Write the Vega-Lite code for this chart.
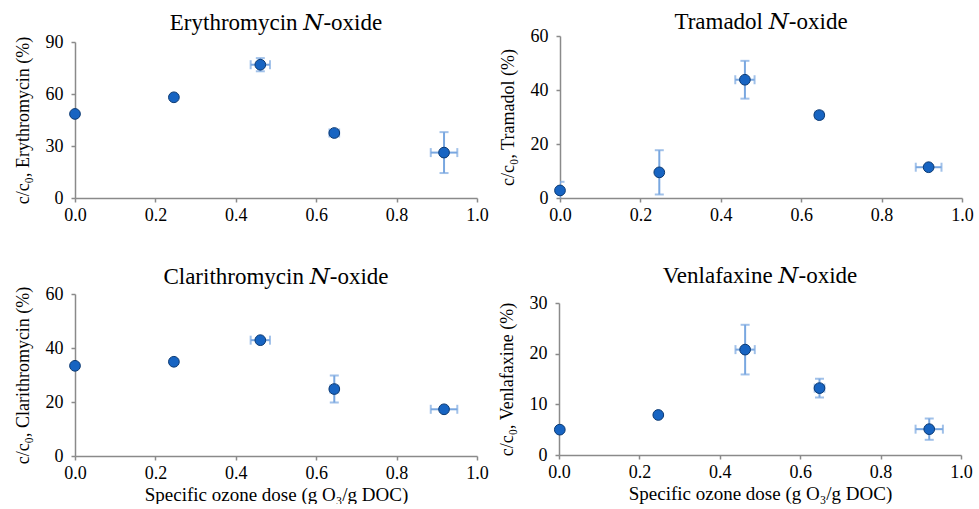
{
  "$schema": "https://vega.github.io/schema/vega-lite/v6.json",
  "background": "white",
  "padding": {"left": 13, "top": 11, "right": 5, "bottom": 0},
  "datasets": {
    "noxides": [
      {"compound": "Erythromycin", "dose": 0.0, "dose_err": 0, "value": 48.5, "value_err": 0},
      {"compound": "Erythromycin", "dose": 0.246, "dose_err": 0, "value": 58.1, "value_err": 0},
      {"compound": "Erythromycin", "dose": 0.461, "dose_err": 0.024, "value": 76.9, "value_err": 3.8},
      {"compound": "Erythromycin", "dose": 0.645, "dose_err": 0.012, "value": 37.5, "value_err": 1.5},
      {"compound": "Erythromycin", "dose": 0.918, "dose_err": 0.033, "value": 26.2, "value_err": 11.8},
      {"compound": "Tramadol", "dose": 0.0, "dose_err": 0, "value": 2.8, "value_err": 3.2},
      {"compound": "Tramadol", "dose": 0.247, "dose_err": 0, "value": 9.5, "value_err": 8.2},
      {"compound": "Tramadol", "dose": 0.46, "dose_err": 0.024, "value": 43.8, "value_err": 7.0},
      {"compound": "Tramadol", "dose": 0.645, "dose_err": 0.01, "value": 30.7, "value_err": 1.0},
      {"compound": "Tramadol", "dose": 0.917, "dose_err": 0.032, "value": 11.4, "value_err": 0.8},
      {"compound": "Clarithromycin", "dose": 0.0, "dose_err": 0, "value": 33.4, "value_err": 0},
      {"compound": "Clarithromycin", "dose": 0.246, "dose_err": 0, "value": 34.9, "value_err": 0},
      {"compound": "Clarithromycin", "dose": 0.461, "dose_err": 0.024, "value": 42.9, "value_err": 0.8},
      {"compound": "Clarithromycin", "dose": 0.645, "dose_err": 0.01, "value": 24.8, "value_err": 5.0},
      {"compound": "Clarithromycin", "dose": 0.918, "dose_err": 0.033, "value": 17.3, "value_err": 0.8},
      {"compound": "Venlafaxine", "dose": 0.002, "dose_err": 0, "value": 5.0, "value_err": 0},
      {"compound": "Venlafaxine", "dose": 0.247, "dose_err": 0, "value": 7.9, "value_err": 0},
      {"compound": "Venlafaxine", "dose": 0.463, "dose_err": 0.024, "value": 20.8, "value_err": 4.9},
      {"compound": "Venlafaxine", "dose": 0.648, "dose_err": 0.012, "value": 13.2, "value_err": 1.85},
      {"compound": "Venlafaxine", "dose": 0.921, "dose_err": 0.034, "value": 5.1, "value_err": 2.1}
    ]
  },
  "data": {"name": "noxides"},
  "spacing": 41,
  "vconcat": [
    {
      "spacing": 9,
      "hconcat": [
        {
          "title": {"text": "Erythromycin 𝑁-oxide", "offset": -2},
          "width": 402,
          "height": 162,
          "transform": [{"filter": "datum.compound === 'Erythromycin'"}],
          "layer": [
            {
              "transform": [{"filter": "datum.dose_err > 0"}],
              "mark": {"type": "errorbar", "ticks": {"size": 9}, "thickness": 2, "color": "#79a7e0", "clip": true},
              "encoding": {
                "x": {"field": "dose", "type": "quantitative", "title": null},
                "xError": {"field": "dose_err"},
                "y": {"field": "value", "type": "quantitative", "title": "c/c₀, Erythromycin (%)"}
              }
            },
            {
              "transform": [{"filter": "datum.value_err > 0"}],
              "mark": {"type": "errorbar", "ticks": {"size": 9}, "thickness": 2, "color": "#79a7e0", "clip": true},
              "encoding": {
                "x": {"field": "dose", "type": "quantitative", "title": null},
                "y": {"field": "value", "type": "quantitative", "title": "c/c₀, Erythromycin (%)"},
                "yError": {"field": "value_err"}
              }
            },
            {
              "mark": {"type": "point", "filled": true, "size": 115, "color": "#1764c2", "stroke": "#0c3a73", "strokeWidth": 1, "opacity": 1},
              "encoding": {
                "x": {"field": "dose", "type": "quantitative", "title": null, "scale": {"domain": [0, 1], "nice": false}, "axis": {"values": [0, 0.2, 0.4, 0.6, 0.8, 1], "format": ".1f"}},
                "y": {"field": "value", "type": "quantitative", "title": "c/c₀, Erythromycin (%)", "scale": {"domain": [0, 90], "range": [162, 6], "nice": false}, "axis": {"values": [0, 30, 60, 90]}}
              }
            }
          ]
        },
        {
          "title": {"text": "Tramadol 𝑁-oxide", "offset": -7},
          "width": 402,
          "height": 162,
          "transform": [{"filter": "datum.compound === 'Tramadol'"}],
          "layer": [
            {
              "transform": [{"filter": "datum.dose_err > 0"}],
              "mark": {"type": "errorbar", "ticks": {"size": 9}, "thickness": 2, "color": "#79a7e0", "clip": true},
              "encoding": {
                "x": {"field": "dose", "type": "quantitative", "title": null},
                "xError": {"field": "dose_err"},
                "y": {"field": "value", "type": "quantitative", "title": "c/c₀, Tramadol (%)"}
              }
            },
            {
              "transform": [{"filter": "datum.value_err > 0"}],
              "mark": {"type": "errorbar", "ticks": {"size": 9}, "thickness": 2, "color": "#79a7e0", "clip": true},
              "encoding": {
                "x": {"field": "dose", "type": "quantitative", "title": null},
                "y": {"field": "value", "type": "quantitative", "title": "c/c₀, Tramadol (%)"},
                "yError": {"field": "value_err"}
              }
            },
            {
              "mark": {"type": "point", "filled": true, "size": 115, "color": "#1764c2", "stroke": "#0c3a73", "strokeWidth": 1, "opacity": 1},
              "encoding": {
                "x": {"field": "dose", "type": "quantitative", "title": null, "scale": {"domain": [0, 1], "nice": false}, "axis": {"values": [0, 0.2, 0.4, 0.6, 0.8, 1], "format": ".1f"}},
                "y": {"field": "value", "type": "quantitative", "title": "c/c₀, Tramadol (%)", "scale": {"domain": [0, 60], "nice": false}, "axis": {"values": [0, 20, 40, 60]}}
              }
            }
          ]
        }
      ]
    },
    {
      "spacing": 9,
      "hconcat": [
        {
          "title": {"text": "Clarithromycin 𝑁-oxide", "offset": -4},
          "width": 402,
          "height": 162,
          "transform": [{"filter": "datum.compound === 'Clarithromycin'"}],
          "layer": [
            {
              "transform": [{"filter": "datum.dose_err > 0"}],
              "mark": {"type": "errorbar", "ticks": {"size": 9}, "thickness": 2, "color": "#79a7e0", "clip": true},
              "encoding": {
                "x": {"field": "dose", "type": "quantitative", "title": "Specific ozone dose (g O₃/g DOC)"},
                "xError": {"field": "dose_err"},
                "y": {"field": "value", "type": "quantitative", "title": "c/c₀, Clarithromycin (%)"}
              }
            },
            {
              "transform": [{"filter": "datum.value_err > 0"}],
              "mark": {"type": "errorbar", "ticks": {"size": 9}, "thickness": 2, "color": "#79a7e0", "clip": true},
              "encoding": {
                "x": {"field": "dose", "type": "quantitative", "title": "Specific ozone dose (g O₃/g DOC)"},
                "y": {"field": "value", "type": "quantitative", "title": "c/c₀, Clarithromycin (%)"},
                "yError": {"field": "value_err"}
              }
            },
            {
              "mark": {"type": "point", "filled": true, "size": 115, "color": "#1764c2", "stroke": "#0c3a73", "strokeWidth": 1, "opacity": 1},
              "encoding": {
                "x": {"field": "dose", "type": "quantitative", "title": "Specific ozone dose (g O₃/g DOC)", "scale": {"domain": [0, 1], "nice": false}, "axis": {"values": [0, 0.2, 0.4, 0.6, 0.8, 1], "format": ".1f"}},
                "y": {"field": "value", "type": "quantitative", "title": "c/c₀, Clarithromycin (%)", "scale": {"domain": [0, 60], "nice": false}, "axis": {"values": [0, 20, 40, 60]}}
              }
            }
          ]
        },
        {
          "title": {"text": "Venlafaxine 𝑁-oxide", "offset": 6},
          "width": 402,
          "height": 161,
          "transform": [{"filter": "datum.compound === 'Venlafaxine'"}],
          "layer": [
            {
              "transform": [{"filter": "datum.dose_err > 0"}],
              "mark": {"type": "errorbar", "ticks": {"size": 9}, "thickness": 2, "color": "#79a7e0", "clip": true},
              "encoding": {
                "x": {"field": "dose", "type": "quantitative", "title": "Specific ozone dose (g O₃/g DOC)"},
                "xError": {"field": "dose_err"},
                "y": {"field": "value", "type": "quantitative", "title": "c/c₀, Venlafaxine (%)"}
              }
            },
            {
              "transform": [{"filter": "datum.value_err > 0"}],
              "mark": {"type": "errorbar", "ticks": {"size": 9}, "thickness": 2, "color": "#79a7e0", "clip": true},
              "encoding": {
                "x": {"field": "dose", "type": "quantitative", "title": "Specific ozone dose (g O₃/g DOC)"},
                "y": {"field": "value", "type": "quantitative", "title": "c/c₀, Venlafaxine (%)"},
                "yError": {"field": "value_err"}
              }
            },
            {
              "mark": {"type": "point", "filled": true, "size": 115, "color": "#1764c2", "stroke": "#0c3a73", "strokeWidth": 1, "opacity": 1},
              "encoding": {
                "x": {"field": "dose", "type": "quantitative", "title": "Specific ozone dose (g O₃/g DOC)", "scale": {"domain": [0, 1], "nice": false}, "axis": {"values": [0, 0.2, 0.4, 0.6, 0.8, 1], "format": ".1f"}},
                "y": {"field": "value", "type": "quantitative", "title": "c/c₀, Venlafaxine (%)", "scale": {"domain": [0, 30], "range": [161, 9], "nice": false}, "axis": {"values": [0, 10, 20, 30]}}
              }
            }
          ]
        }
      ]
    }
  ],
  "config": {
    "view": {"stroke": null},
    "axis": {
      "grid": false,
      "domainColor": "#8a8a8a",
      "domainWidth": 1.5,
      "tickColor": "#8a8a8a",
      "tickWidth": 1.5,
      "tickSize": 4,
      "labelFont": "Liberation Serif",
      "labelFontSize": 18,
      "labelColor": "#000000",
      "labelPadding": 8,
      "labelFlush": false,
      "labelOverlap": false,
      "titleFont": "Liberation Serif",
      "titleFontSize": 19,
      "titleFontWeight": "normal",
      "titleColor": "#000000"
    },
    "axisY": {"titlePadding": 13, "titleFontSize": 18},
    "axisX": {"titlePadding": 3, "labelPadding": 4},
    "title": {"font": "Liberation Serif, DejaVu Serif", "fontSize": 23, "fontWeight": "normal", "color": "#000000", "anchor": "middle"}
  }
}
